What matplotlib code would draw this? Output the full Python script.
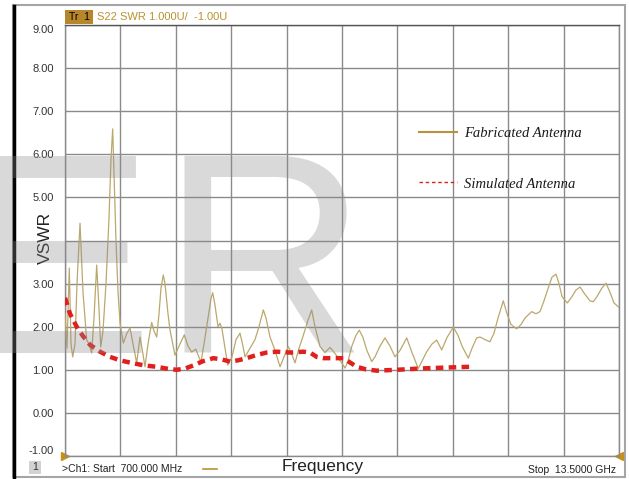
import matplotlib
matplotlib.use('Agg')
import matplotlib.pyplot as plt
from matplotlib.lines import Line2D
from matplotlib.patches import Rectangle

plt.rcParams['font.family'] = ['Liberation Sans', 'DejaVu Sans']

# measured VSWR of the fabricated antenna (frequency in GHz)
fab_freq = [0.700, 0.746, 0.799, 0.839, 0.878, 0.931, 0.977, 1.047, 1.116, 1.201,
            1.255, 1.317, 1.370, 1.432, 1.486, 1.525, 1.578, 1.647, 1.716, 1.763,
            1.802, 1.844, 1.878, 1.925, 1.971, 2.047, 2.132, 2.202, 2.271, 2.357,
            2.433, 2.479, 2.548, 2.618, 2.703, 2.756, 2.819, 2.872, 2.918, 2.971,
            3.010, 3.080, 3.126, 3.241, 3.357, 3.456, 3.542, 3.627, 3.720, 3.773,
            3.842, 3.912, 4.004, 4.073, 4.113, 4.166, 4.235, 4.281, 4.327, 4.397,
            4.459, 4.558, 4.651, 4.743, 4.801, 4.859, 4.974, 5.090, 5.182, 5.282,
            5.344, 5.437, 5.552, 5.668, 5.760, 5.859, 5.945, 6.014, 6.107, 6.206,
            6.314, 6.400, 6.476, 6.592, 6.707, 6.823, 6.938, 7.093, 7.169, 7.239,
            7.324, 7.423, 7.500, 7.585, 7.671, 7.786, 7.862, 7.978, 8.093, 8.209,
            8.325, 8.440, 8.595, 8.717, 8.863, 8.948, 9.057, 9.180, 9.288, 9.404,
            9.526, 9.672, 9.780, 9.873, 10.018, 10.104, 10.212, 10.289, 10.404, 10.520,
            10.612, 10.704, 10.827, 10.912, 11.005, 11.136, 11.236, 11.328, 11.483, 11.582,
            11.675, 11.767, 11.866, 11.952, 12.044, 12.114, 12.183, 12.305, 12.414, 12.506,
            12.599, 12.714, 12.830, 12.906, 12.992, 13.107, 13.200, 13.292, 13.385, 13.500]
fab_vswr = [2.30, 1.50, 3.36, 1.60, 1.30, 1.60, 3.00, 4.40, 2.80, 1.69,
            1.60, 1.39, 2.20, 3.43, 2.40, 1.53, 1.90, 3.00, 4.50, 5.90,
            6.59, 5.20, 4.00, 2.80, 2.09, 1.62, 1.85, 1.97, 1.60, 1.16,
            1.76, 1.50, 1.07, 1.60, 2.10, 1.90, 1.76, 2.30, 2.90, 3.20,
            3.00, 2.30, 1.92, 1.34, 1.60, 1.81, 1.55, 1.41, 1.48, 1.35,
            1.18, 1.60, 2.20, 2.65, 2.79, 2.50, 2.00, 2.08, 1.95, 1.50,
            1.11, 1.30, 1.70, 1.85, 1.60, 1.30, 1.50, 1.70, 2.00, 2.39,
            2.20, 1.76, 1.45, 1.07, 1.30, 1.54, 1.35, 1.16, 1.50, 1.80,
            2.15, 2.39, 2.00, 1.54, 1.40, 1.52, 1.38, 1.16, 1.04, 1.20,
            1.54, 1.80, 1.92, 1.75, 1.46, 1.19, 1.30, 1.55, 1.74, 1.55,
            1.30, 1.45, 1.74, 1.40, 1.03, 1.20, 1.42, 1.60, 1.69, 1.46,
            1.75, 1.99, 1.80, 1.55, 1.27, 1.50, 1.74, 1.76, 1.70, 1.65,
            1.85, 2.20, 2.60, 2.30, 2.05, 1.95, 2.05, 2.20, 2.35, 2.30,
            2.35, 2.60, 2.90, 3.15, 3.22, 3.00, 2.70, 2.55, 2.70, 2.85,
            2.92, 2.75, 2.60, 2.58, 2.70, 2.90, 3.01, 2.80, 2.55, 2.45]

# simulated VSWR
sim_freq = [0.700, 0.816, 0.970, 1.116, 1.278, 1.509, 1.740, 1.971, 2.278, 2.548,
            2.819, 3.034, 3.281, 3.473, 3.664, 3.888, 4.126, 4.327, 4.512, 4.697,
            4.898, 5.113, 5.360, 5.591, 5.899, 6.206, 6.361, 6.516, 6.668, 6.892,
            7.130, 7.285, 7.440, 7.655, 7.902, 8.364, 8.902, 9.441, 10.057]
sim_vswr = [2.67, 2.30, 2.00, 1.78, 1.58, 1.42, 1.30, 1.22, 1.15, 1.10,
            1.07, 1.03, 1.00, 1.03, 1.10, 1.20, 1.27, 1.24, 1.19, 1.22,
            1.27, 1.34, 1.40, 1.42, 1.40, 1.42, 1.40, 1.30, 1.27, 1.27,
            1.27, 1.17, 1.07, 1.01, 0.98, 1.00, 1.03, 1.05, 1.07]

f_start, f_stop = 0.7, 13.5
y_ticks = [-1, 0, 1, 2, 3, 4, 5, 6, 7, 8, 9]
y_labels = ['-1.00', '0.00', '1.00', '2.00', '3.00', '', '5.00', '6.00', '7.00', '8.00', '9.00']

W, H = 629, 479
fig = plt.figure(figsize=(W / 100, H / 100), dpi=100)
fig.patch.set_facecolor('white')

def px(x, y):
    return x / W, 1 - y / H

ax = fig.add_axes([65 / W, 1 - 456 / H, 554 / W, 431 / H])
ax.set_xlim(f_start, f_stop)
ax.set_ylim(-1, 9)
step = (f_stop - f_start) / 10
ax.set_xticks([f_start + i * step for i in range(11)])
ax.set_xticklabels([])
ax.set_yticks(y_ticks)
ax.set_yticklabels(y_labels, fontsize=8, color='#333333')
ax.tick_params(length=0, pad=8)
ax.grid(True, color='#8a8a8a', lw=1)
for s in ax.spines.values():
    s.set_color('#8a8a8a')
    s.set_linewidth(1)
ax.spines['top'].set_color('#555555')
tl = ax.get_yticklabels()
tl[-1].set_va('top')
tl[0].set_va('bottom')

# legend area is blanked out over the grid
ax.add_patch(Rectangle(((416 - 65) / 554, 1 - (220 - 25) / 431), (590 - 416) / 554, (220 - 88) / 431,
                       transform=ax.transAxes, facecolor='white', edgecolor='none', zorder=1.5))

ax.plot(fab_freq, fab_vswr, color='#bba86c', lw=0.9, zorder=3)
ax.plot(sim_freq, sim_vswr, color='#e0201c', lw=3.2, ls=(0, (1.7, 1.2)), zorder=4)

ax.plot([0], [0], marker='>', color='#c8901a', ms=6, transform=ax.transAxes, clip_on=False)
ax.plot([1], [0], marker='<', color='#c8901a', ms=6, transform=ax.transAxes, clip_on=False)

handles = [Line2D([], [], color='#b8913a', lw=1.5),
           Line2D([], [], color='#e0201c', lw=1.0, ls=(0, (2.5, 2)))]
leg = ax.legend(handles, ['Fabricated Antenna', 'Simulated Antenna'],
                loc='upper left', bbox_to_anchor=((419 - 65) / 554, 1 - (127 - 25) / 431),
                frameon=False, handlelength=2.6, handletextpad=0.5, labelspacing=2.55,
                borderpad=0, borderaxespad=0,
                prop={'family': 'Liberation Serif', 'style': 'italic', 'size': 10.5})
for t in leg.get_texts():
    t.set_color('#1a1a1a')
leg.set_zorder(5)

# watermark
for ch, x0 in [('E', -37), ('R', 160)]:
    fig.text(x0 / W, 1 - 353 / H, ch, fontsize=206, color='#8c8c8c', alpha=0.33,
             ha='left', va='baseline', zorder=10)

# outer instrument frame
fig.add_artist(Rectangle(px(13, 477), 612 / W, 472 / H, transform=fig.transFigure,
                         facecolor='none', edgecolor='#a5a5a5', lw=1.5))
fig.add_artist(Line2D([14 / W, 14 / W], [1 - 478 / H, 1 - 6 / H], color='black', lw=2.5))

# header
fig.add_artist(Rectangle(px(65, 24), 28 / W, 14 / H, transform=fig.transFigure,
                         facecolor='#b8862a', edgecolor='none'))
fig.text(*px(69, 17.5), 'Tr  1', fontsize=7.5, color='black', va='center')
fig.text(*px(97, 17.5), 'S22 SWR 1.000U/  -1.00U', fontsize=8, color='#b8922e', va='center')

# axis titles
fig.text(*px(45, 238), 'VSWR', fontsize=12.5, rotation=90, ha='center', va='center', color='#222222')
fig.text(*px(323, 466), 'Frequency', fontsize=12.5, ha='center', va='center', color='#222222')

# footer
fig.add_artist(Rectangle(px(29, 474), 12 / W, 13 / H, transform=fig.transFigure,
                         facecolor='#d2d2d2', edgecolor='none'))
fig.text(*px(35, 467.5), '1', fontsize=7.5, ha='center', va='center', color='#333333')
fig.text(*px(62, 469), '>Ch1: Start  700.000 MHz', fontsize=7.5, va='center', color='#222222')
fig.add_artist(Line2D([203 / W, 217 / W], [1 - 469 / H, 1 - 469 / H], color='#b8922e', lw=1.2))
fig.text(*px(616, 470), 'Stop  13.5000 GHz', fontsize=7.5, ha='right', va='center', color='#222222')

fig.savefig('out.png', dpi=100)
